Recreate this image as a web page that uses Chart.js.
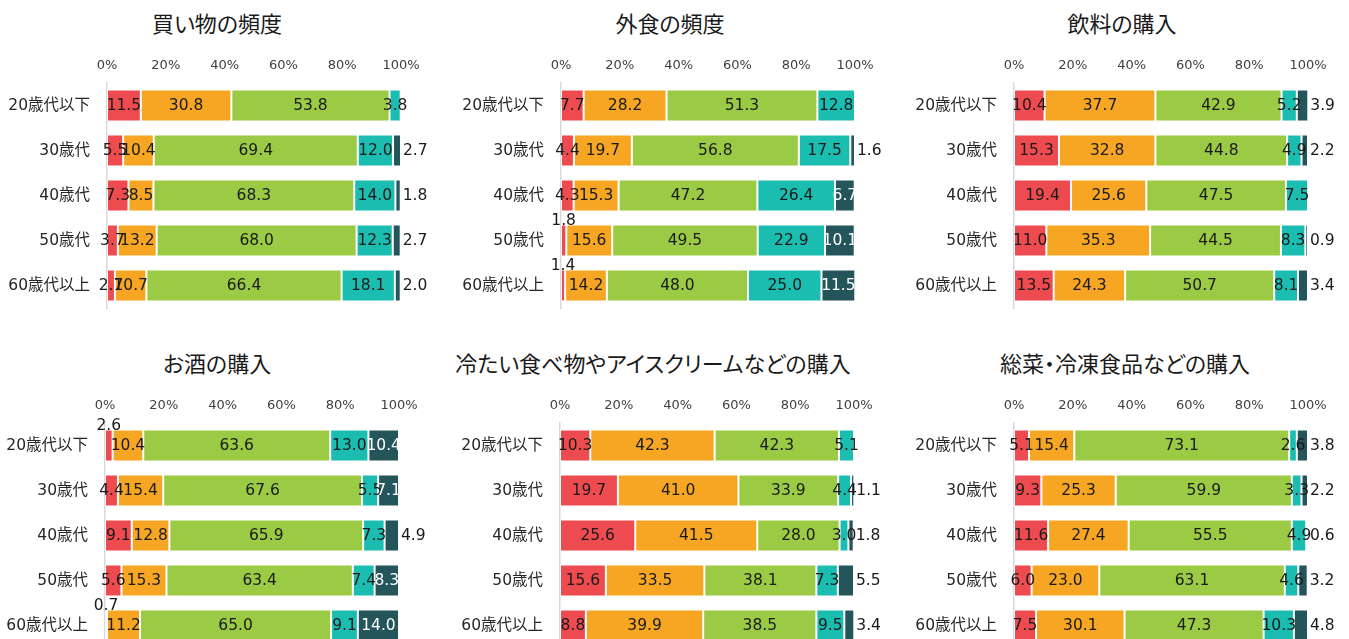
<!DOCTYPE html>
<html lang="ja">
<head>
<meta charset="utf-8">
<title>年代別の購買行動</title>
<script src="https://cdn.jsdelivr.net/npm/chart.js@4.4.1/dist/chart.umd.min.js"></script>
<style>
    html, body { margin: 0; padding: 0; background: #fff; overflow: hidden; }
    body { width: 1349px; height: 639px; position: relative; }
    canvas { position: absolute; }
    .panel-title {
        position: absolute;
        font-family: "Noto Sans CJK JP", sans-serif;
        font-size: 22px;
        line-height: 30px;
        color: #1a1a1a;
        white-space: nowrap;
        font-feature-settings: "palt";
        transform: translateX(-50%);
    }
</style>
</head>
<body>
<script>
/* ===========================================
   Data
   =========================================== */

const ageGroups = ['20歳代以下', '30歳代', '40歳代', '50歳代', '60歳代以上'];

// The legend is not shown in the picture; these names are only used internally
const answerLevels = ['増えた', 'やや増えた', '変わらない', 'やや減った', '減った'];

const panelTitles = [
    '買い物の頻度',
    '外食の頻度',
    '飲料の購入',
    'お酒の購入',
    '冷たい食べ物やアイスクリームなどの購入',
    '総菜・冷凍食品などの購入'
];

// each array: one row per answer level, one value per age group (%)
const shopping = [
    [11.5, 5.5, 7.3, 3.7, 2.7],
    [30.8, 10.4, 8.5, 13.2, 10.7],
    [53.8, 69.4, 68.3, 68.0, 66.4],
    [3.8, 12.0, 14.0, 12.3, 18.1],
    [0, 2.7, 1.8, 2.7, 2.0]
];
const eatingOut = [
    [7.7, 4.4, 4.3, 1.8, 1.4],
    [28.2, 19.7, 15.3, 15.6, 14.2],
    [51.3, 56.8, 47.2, 49.5, 48.0],
    [12.8, 17.5, 26.4, 22.9, 25.0],
    [0, 1.6, 6.7, 10.1, 11.5]
];
const drinks = [
    [10.4, 15.3, 19.4, 11.0, 13.5],
    [37.7, 32.8, 25.6, 35.3, 24.3],
    [42.9, 44.8, 47.5, 44.5, 50.7],
    [5.2, 4.9, 7.5, 8.3, 8.1],
    [3.9, 2.2, 0, 0.9, 3.4]
];
const alcohol = [
    [2.6, 4.4, 9.1, 5.6, 0.7],
    [10.4, 15.4, 12.8, 15.3, 11.2],
    [63.6, 67.6, 65.9, 63.4, 65.0],
    [13.0, 5.5, 7.3, 7.4, 9.1],
    [10.4, 7.1, 4.9, 8.3, 14.0]
];
const coldFood = [
    [10.3, 19.7, 25.6, 15.6, 8.8],
    [42.3, 41.0, 41.5, 33.5, 39.9],
    [42.3, 33.9, 28.0, 38.1, 38.5],
    [5.1, 4.4, 3.0, 7.3, 9.5],
    [0, 1.1, 1.8, 5.5, 3.4]
];
const deliFood = [
    [5.1, 9.3, 11.6, 6.0, 7.5],
    [15.4, 25.3, 27.4, 23.0, 30.1],
    [73.1, 59.9, 55.5, 63.1, 47.3],
    [2.6, 3.3, 4.9, 4.6, 10.3],
    [3.8, 2.2, 0.6, 3.2, 4.8]
];

const panelValues = [shopping, eatingOut, drinks, alcohol, coldFood, deliFood];

const xTicks = [0, 20, 40, 60, 80, 100];

/* ===========================================
   Styles & layout
   =========================================== */

const levelColors = ['#EE4B50', '#F6A623', '#9BCA44', '#1BBDB0', '#24555A'];
const numFont = '"DejaVu Sans", "Noto Sans CJK JP", sans-serif';

// canvas placement and plot edges for each panel (pixels on the page)
const panelLayout = [
    { left: 0,   top: 0,   width: 450, plotLeft: 107,  plotRight: 401,  titleX: 217 },
    { left: 450, top: 0,   width: 450, plotLeft: 561,  plotRight: 855,  titleX: 670 },
    { left: 900, top: 0,   width: 449, plotLeft: 1014, plotRight: 1308, titleX: 1122 },
    { left: 0,   top: 340, width: 450, plotLeft: 105,  plotRight: 399,  titleX: 217 },
    { left: 450, top: 340, width: 450, plotLeft: 560,  plotRight: 854,  titleX: 653 },
    { left: 900, top: 340, width: 449, plotLeft: 1014, plotRight: 1308, titleX: 1125 }
];
const PANEL_HEIGHT = 340;

// Value labels drawn on / beside each segment
const valueLabels = {
    id: 'valueLabels',
    afterDatasetsDraw(chart) {
        const ctx = chart.ctx;
        ctx.save();
        ctx.font = '15.5px ' + numFont;
        ctx.textBaseline = 'middle';
        chart.data.datasets.forEach((ds, i) => {
            chart.getDatasetMeta(i).data.forEach((bar, j) => {
                const v = ds.data[j];
                if (!v) return;
                const text = v.toFixed(1);
                const mid = (bar.base + bar.x) / 2;
                ctx.fillStyle = '#1a1a1a';
                ctx.textAlign = 'center';
                if (i === 0 && v < 2.65) {
                    // very thin first segment: label sits above the bar
                    ctx.fillText(text, mid, bar.y - 20);
                } else if (i === 4 && v < 6) {
                    // small last segment: label outside, right of the bar
                    ctx.textAlign = 'left';
                    ctx.fillText(text, bar.x + 2, bar.y);
                } else {
                    if (i === 4) ctx.fillStyle = '#ffffff';
                    ctx.fillText(text, mid, bar.y);
                }
            });
        });
        ctx.restore();
    }
};

/* ===========================================
   Build panels
   =========================================== */

panelLayout.forEach((lay, p) => {
    const title = document.createElement('div');
    title.className = 'panel-title';
    title.textContent = panelTitles[p];
    title.style.left = lay.titleX + 'px';
    title.style.top = (lay.top + 7) + 'px';
    document.body.appendChild(title);

    const canvas = document.createElement('canvas');
    canvas.width = lay.width;
    canvas.height = PANEL_HEIGHT;
    canvas.style.left = lay.left + 'px';
    canvas.style.top = lay.top + 'px';
    document.body.appendChild(canvas);

    initPanel(canvas, panelValues[p], lay);
});

function initPanel(canvas, values, lay) {
    new Chart(canvas, {
        type: 'bar',
        data: {
            labels: ageGroups,
            datasets: answerLevels.map((name, i) => ({
                label: name,
                data: values[i],
                backgroundColor: levelColors[i],
                borderColor: 'rgba(255, 255, 255, 0.7)',
                borderWidth: 1,
                borderSkipped: false,
                barPercentage: 0.71,
                categoryPercentage: 1
            }))
        },
        options: {
            indexAxis: 'y',
            responsive: false,
            animation: false,
            layout: {
                padding: { top: 53, bottom: 32, left: 0, right: lay.left + lay.width - lay.plotRight }
            },
            plugins: {
                legend: { display: false },
                tooltip: { enabled: false }
            },
            scales: {
                x: {
                    position: 'top',
                    stacked: true,
                    min: 0,
                    max: 100,
                    afterBuildTicks: (scale) => {
                        scale.ticks = xTicks.map(v => ({ value: v }));
                    },
                    afterFit: (scale) => { scale.height = 30; },
                    grid: { display: false, drawTicks: false },
                    border: { display: false },
                    ticks: {
                        padding: 10,
                        color: '#404040',
                        font: { family: numFont, size: 13 },
                        callback: (v) => v + '%'
                    }
                },
                y: {
                    stacked: true,
                    afterFit: (scale) => { scale.width = lay.plotLeft - lay.left; },
                    grid: { display: false, drawTicks: false },
                    border: { display: true, color: '#d9d9d9', width: 1.5 },
                    ticks: {
                        padding: 17,
                        color: '#262626',
                        font: { family: numFont, size: 15.5 }
                    }
                }
            }
        },
        plugins: [valueLabels]
    });
}
</script>
</body>
</html>
